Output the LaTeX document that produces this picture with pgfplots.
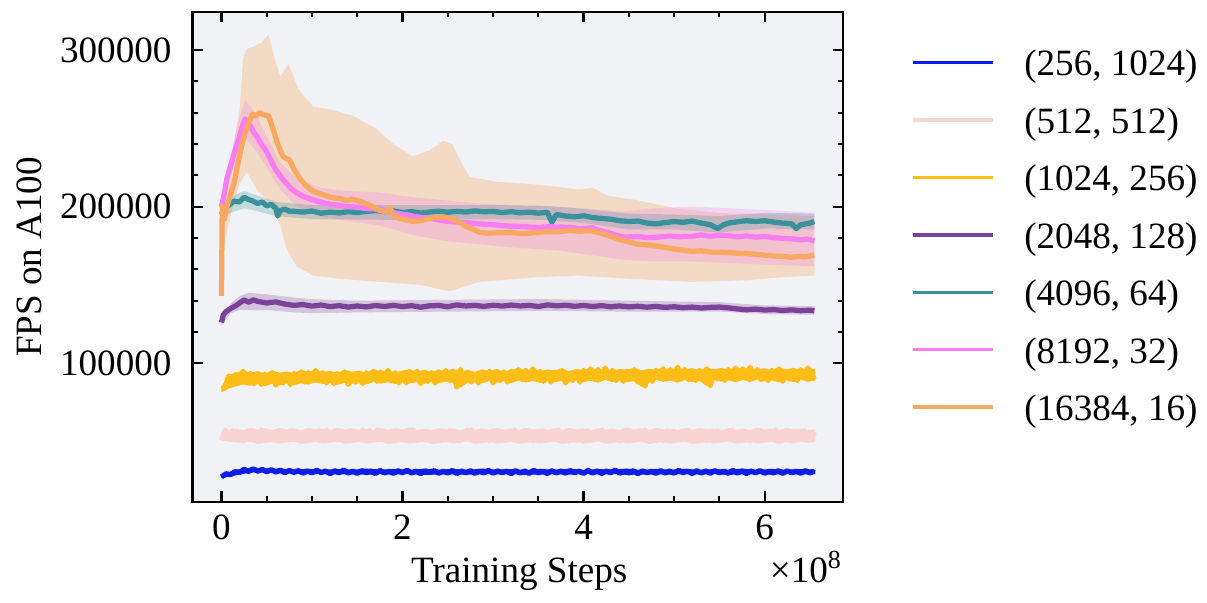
\documentclass[border=0pt]{standalone}
\usepackage{pgfplots}
\pgfplotsset{compat=1.18}
\usepackage{fontspec}
\setmainfont{Liberation Serif}
\definecolor{cblue}{RGB}{14,30,232}
\definecolor{clpink}{RGB}{250,212,210}
\definecolor{cyellow}{RGB}{251,189,22}
\definecolor{cpurple}{RGB}{124,66,152}
\definecolor{cteal}{RGB}{58,144,155}
\definecolor{cmag}{RGB}{247,126,240}
\definecolor{corange}{RGB}{248,168,98}
\definecolor{bgc}{RGB}{240,242,245}
\begin{document}
\fontsize{10.6}{12.7}\selectfont
\begin{tikzpicture}
\path (-55pt,-27.4pt) rectangle (289.8pt,143.4pt);
\begin{axis}[
  scale only axis, width=185.9pt, height=140pt,
  xmin=-0.32, xmax=6.87, ymin=11500, ymax=324300,
  xtick={0,2,4,6}, minor x tick num=3,
  ytick={100000,200000,300000}, minor y tick num=4,
  tick align=inside, xtick pos=both, ytick pos=both,
  major tick length=3pt, minor tick length=1.6pt,
  every tick/.style={black, line width=0.6pt},
  axis line style={line width=0.6pt},
  scaled y ticks=false,
  yticklabel style={/pgf/number format/fixed, /pgf/number format/1000 sep={}, xshift=-2.3pt},
  /pgf/number format/assume math mode=true,
  axis background/.style={fill=bgc},
  xlabel={Training Steps}, ylabel={FPS on A100},
  every axis x label/.style={at={(axis description cs:0.502,-0.1636)}, anchor=base},
  every axis y label/.style={at={(axis description cs:-0.2315,0.5)}, rotate=90, anchor=base},
  legend cell align=left,
  legend style={draw=none, fill=none, inner sep=0pt, row sep=8.8pt,
    at={(axis description cs:1.1028,0.925)}, anchor=north west,
    nodes={inner sep=0pt, text height=7.6pt, text depth=0pt},
    /tikz/every odd column/.append style={column sep=8.5pt}},
  legend image code/.code={\draw[#1,line width=1pt] (0pt,0pt) -- (22.9pt,0pt);},
  every axis plot/.append style={line width=1.5pt, line join=round},
]
% ---- std bands ----
\addplot[forget plot, draw=none, fill=corange, fill opacity=0.32] coordinates {
(0,200000) (0.05,215000) (0.12,235000) (0.2,262000) (0.24,295000) (0.28,300600) (0.35,302000) (0.45,305000) (0.52,310000) (0.58,296000) (0.65,283000) (0.74,291000) (0.85,275000) (1.01,264000) (1.2,262000) (1.45,258000) (1.7,250000) (1.9,240000) (2.11,232000) (2.3,236000) (2.45,242000) (2.55,240000) (2.65,228000) (2.74,219000) (3.03,216000) (3.5,214000) (3.94,211000) (4.1,212000) (4.27,207000) (4.6,204000) (5.0,199000) (5.5,196000) (6.0,195000) (6.55,194000)
(6.55,156000) (6.2,155000) (5.8,153000) (5.2,152000) (4.5,154000) (3.94,156000) (3.5,155000) (2.85,152000) (2.52,146000) (2.2,150000) (1.75,152000) (1.3,154000) (1.01,156000) (0.83,162000) (0.72,173000) (0.65,188000) (0.5,205000) (0.4,210000) (0.28,222000) (0.2,215000) (0.1,195000) (0.03,175000) (0,143000)};
\addplot[forget plot, draw=none, fill=cmag, fill opacity=0.25] coordinates {
(0,200000) (0.1,232000) (0.19,255000) (0.26,268000) (0.35,262000) (0.5,245000) (0.65,228000) (0.83,218000) (1.09,212000) (1.38,210000) (1.75,209000) (2.11,206000) (2.48,204000) (2.85,202000) (3.2,201000) (3.73,200000) (4.46,197000) (4.82,199000) (5.19,200000) (5.6,199000) (6.0,198000) (6.55,196000)
(6.55,162000) (6.0,163000) (5.6,164000) (5.19,165000) (4.82,165000) (4.46,166000) (3.73,172000) (3.2,174000) (2.85,176000) (2.48,178000) (2.11,182000) (1.75,188000) (1.38,191000) (1.09,194000) (0.83,200000) (0.65,211000) (0.5,225000) (0.39,235000) (0.26,244000) (0.19,232000) (0.1,220000) (0,200000)};
\addplot[forget plot, draw=none, fill=cteal, fill opacity=0.25] coordinates {
(0,197000) (0.1,206000) (0.25,210000) (0.4,207000) (0.6,203000) (1.0,201000) (2.0,201000) (3.0,201000) (3.6,200500) (4.0,198500) (4.5,195500) (5.0,195000) (5.5,194000) (6.0,196000) (6.55,195500)
(6.55,185500) (6.0,186000) (5.5,183500) (5.0,185500) (4.5,185500) (4.0,189500) (3.6,191500) (3.0,192000) (2.0,191500) (1.0,192000) (0.6,194000) (0.4,197000) (0.25,199000) (0.1,196000) (0,193000)};
\addplot[forget plot, draw=none, fill=cpurple, fill opacity=0.25] coordinates {
(0,128000) (0.1,138000) (0.2,143000) (0.3,145000) (0.5,144000) (0.8,142000) (1.0,141000) (1.5,140000) (2.5,140500) (3.5,141000) (4.5,140000) (5.5,139000) (6.0,137000) (6.55,136500)
(6.55,131000) (6.0,131500) (5.5,133000) (4.5,133000) (3.5,133500) (2.5,133000) (1.5,132500) (1.0,132000) (0.8,132500) (0.5,134000) (0.3,134000) (0.2,134000) (0.1,132000) (0,124000)};
% ---- noise envelopes of the three noisy runs ----
\addplot[forget plot, draw=none, fill=cblue] coordinates {
(0,28800) (0.16,31800) (0.32,33400) (0.48,33000) (0.64,32800) (0.8,32200) (0.96,32700) (1.12,32000) (1.28,32600) (1.44,32100) (1.6,32800) (1.76,32200) (1.92,32500) (2.08,31900) (2.24,32700) (2.4,32100) (2.56,32600) (2.72,32000) (2.88,32800) (3.04,32200) (3.2,32500) (3.36,31900) (3.52,32600) (3.68,32100) (3.84,32700) (4.0,32000) (4.16,32500) (4.32,32200) (4.48,32800) (4.64,31900) (4.8,32600) (4.96,32100) (5.12,32700) (5.28,32000) (5.44,32500) (5.6,32200) (5.76,32800) (5.92,31900) (6.08,32600) (6.24,32100) (6.4,32500) (6.56,32200)
(6.56,29400) (6.4,29000) (6.24,29500) (6.08,28900) (5.92,29300) (5.76,29100) (5.6,28800) (5.44,29400) (5.28,29000) (5.12,29500) (4.96,28900) (4.8,29200) (4.64,29000) (4.48,28800) (4.32,29400) (4.16,29100) (4.0,29500) (3.84,28900) (3.68,29300) (3.52,29000) (3.36,28800) (3.2,29400) (3.04,29100) (2.88,29500) (2.72,28900) (2.56,29200) (2.4,29000) (2.24,28800) (2.08,29400) (1.92,29100) (1.76,29300) (1.6,28900) (1.44,29200) (1.28,29000) (1.12,29400) (0.96,29300) (0.8,29600) (0.64,29900) (0.48,30500) (0.32,30300) (0.16,28500) (0,26800)};
\addplot[forget plot, draw=none, fill=clpink] coordinates {
(0,55000) (0.08,57500) (0.16,58300) (0.24,57400) (0.32,58800) (0.4,57600) (0.48,58500) (0.56,57200) (0.64,58900) (0.72,57800) (0.8,58400) (0.88,57100) (0.96,58700) (1.04,57900) (1.12,58200) (1.2,57300) (1.28,59000) (1.36,57700) (1.44,58600) (1.52,57400) (1.6,58300) (1.68,57000) (1.76,58800) (1.84,57600) (1.92,58500) (2.0,57900) (2.08,59100) (2.16,57500) (2.24,58200) (2.32,57300) (2.4,58700) (2.48,57800) (2.56,58400) (2.64,57100) (2.72,58900) (2.8,57600) (2.88,58300) (2.96,57400) (3.04,58800) (3.12,57700) (3.2,58500) (3.28,57200) (3.36,59000) (3.44,57900) (3.52,58200) (3.6,57500) (3.68,58600) (3.76,57300) (3.84,58900) (3.92,57800) (4.0,58400) (4.08,57000) (4.16,58700) (4.24,57600) (4.32,58300) (4.4,57400) (4.48,59100) (4.56,57700) (4.64,58500) (4.72,57200) (4.8,58800) (4.88,57900) (4.96,58200) (5.04,57500) (5.12,58600) (5.2,57300) (5.28,58900) (5.36,57800) (5.44,58400) (5.52,57100) (5.6,58700) (5.68,57600) (5.76,58300) (5.84,57400) (5.92,59000) (6.0,57700) (6.08,58500) (6.16,57200) (6.24,58800) (6.32,57900) (6.4,58200) (6.48,57500) (6.56,57800)
(6.56,49800) (6.48,49200) (6.4,50100) (6.32,48900) (6.24,49700) (6.16,48600) (6.08,50000) (6.0,49300) (5.92,48800) (5.84,49900) (5.76,49100) (5.68,48700) (5.6,50200) (5.52,49400) (5.44,48900) (5.36,49800) (5.28,49000) (5.2,48600) (5.12,50100) (5.04,49300) (4.96,48800) (4.88,49700) (4.8,49200) (4.72,48500) (4.64,50000) (4.56,49400) (4.48,48900) (4.4,49800) (4.32,49100) (4.24,48700) (4.16,50200) (4.08,49300) (4.0,48800) (3.92,49900) (3.84,49000) (3.76,48600) (3.68,50100) (3.6,49400) (3.52,48900) (3.44,49700) (3.36,49200) (3.28,48500) (3.2,50000) (3.12,49300) (3.04,48800) (2.96,49900) (2.88,49100) (2.8,48700) (2.72,50200) (2.64,49400) (2.56,48900) (2.48,49800) (2.4,49000) (2.32,48600) (2.24,50100) (2.16,49300) (2.08,48800) (2.0,49700) (1.92,49200) (1.84,48500) (1.76,50000) (1.68,49400) (1.6,48900) (1.52,49800) (1.44,49100) (1.36,48700) (1.28,50200) (1.2,49300) (1.12,48800) (1.04,49900) (0.96,49000) (0.88,48600) (0.8,50100) (0.72,49400) (0.64,48900) (0.56,49700) (0.48,49200) (0.4,48500) (0.32,50000) (0.24,49300) (0.16,49500) (0.08,50000) (0,50500)};
\addplot[forget plot, draw=none, fill=cyellow] coordinates {
(0,85000) (0.08,92500) (0.16,94000) (0.24,95500) (0.32,94000) (0.4,95000) (0.48,93500) (0.56,95500) (0.64,94000) (0.72,94800) (0.8,93800) (0.88,95800) (0.96,94500) (1.04,96000) (1.12,94300) (1.2,95200) (1.28,93900) (1.36,95900) (1.44,94600) (1.52,95300) (1.6,94000) (1.68,96200) (1.76,94800) (1.84,95600) (1.92,94200) (2.0,95400) (2.08,96300) (2.16,94700) (2.24,95900) (2.32,94400) (2.4,96000) (2.48,95100) (2.56,96500) (2.64,94800) (2.72,95700) (2.8,94500) (2.88,96200) (2.96,95000) (3.04,96400) (3.12,94900) (3.2,95800) (3.28,96900) (3.36,95200) (3.44,96600) (3.52,95000) (3.6,96100) (3.68,95400) (3.76,96800) (3.84,95100) (3.92,96300) (4.0,95600) (4.08,97000) (4.16,95500) (4.24,96700) (4.32,95200) (4.4,96400) (4.48,95800) (4.56,97100) (4.64,95400) (4.72,96500) (4.8,95900) (4.88,97200) (4.96,95700) (5.04,97400) (5.12,96000) (5.2,96900) (5.28,95600) (5.36,97300) (5.44,96200) (5.52,97000) (5.6,95800) (5.68,97500) (5.76,96300) (5.84,97200) (5.92,96000) (6.0,96800) (6.08,95700) (6.16,97400) (6.24,96100) (6.32,97000) (6.4,95900) (6.48,97300) (6.56,96000)
(6.56,89000) (6.48,88200) (6.4,89500) (6.32,88000) (6.24,89300) (6.16,87800) (6.08,89100) (6.0,88400) (5.92,89700) (5.84,88100) (5.76,89400) (5.68,87900) (5.6,89200) (5.52,88300) (5.44,89600) (5.36,85500) (5.28,88800) (5.2,88000) (5.12,89300) (5.04,87700) (4.96,89000) (4.88,88200) (4.8,89500) (4.72,87800) (4.64,85000) (4.56,88600) (4.48,87900) (4.4,89200) (4.32,88000) (4.24,89400) (4.16,87600) (4.08,88900) (4.0,88100) (3.92,89300) (3.84,87700) (3.76,88800) (3.68,87900) (3.6,89100) (3.52,87500) (3.44,88700) (3.36,87800) (3.28,89000) (3.2,87400) (3.12,88600) (3.04,87600) (2.96,88900) (2.88,87300) (2.8,88500) (2.72,87700) (2.64,84500) (2.56,87500) (2.48,88400) (2.4,87100) (2.32,88200) (2.24,86900) (2.16,88000) (2.08,87200) (2.0,88300) (1.92,86800) (1.84,87900) (1.76,87000) (1.68,88100) (1.6,86600) (1.52,87800) (1.44,86900) (1.36,87600) (1.28,86200) (1.2,87500) (1.12,86700) (1.04,87900) (0.96,86400) (0.88,87300) (0.8,86000) (0.72,87200) (0.64,85800) (0.56,87000) (0.48,85500) (0.4,86800) (0.32,85700) (0.24,86500) (0.16,85300) (0.08,84000) (0,81500)};
% ---- (256, 1024) ----
\addplot[cblue] coordinates {
(0,27500) (0.05,29500) (0.1,29000) (0.15,30800) (0.2,30500) (0.25,32300) (0.3,31000) (0.35,32600) (0.4,31200) (0.45,32200) (0.5,30800) (0.55,32000) (0.6,30600) (0.65,31800) (0.7,30200) (0.75,31600) (0.8,30400) (0.85,31500) (0.9,29900) (0.95,31300) (1.0,30100) (1.05,31700) (1.1,30300) (1.15,31200) (1.2,29600) (1.25,31400) (1.3,30200) (1.35,31800) (1.4,30000) (1.45,31100) (1.5,29800) (1.55,31500) (1.6,30300) (1.65,31200) (1.7,29700) (1.75,31600) (1.8,30100) (1.85,31000) (1.9,29800) (1.95,31400) (2.0,30200) (2.05,31700) (2.1,30000) (2.15,31200) (2.2,29600) (2.25,31300) (2.3,30300) (2.35,31500) (2.4,29900) (2.45,31100) (2.5,30000) (2.55,31600) (2.6,29700) (2.65,31200) (2.7,30200) (2.75,31400) (2.8,29800) (2.85,31000) (2.9,30100) (2.95,31600) (3.0,29900) (3.05,31300) (3.1,30300) (3.15,31100) (3.2,29600) (3.25,31500) (3.3,30000) (3.35,31200) (3.4,29800) (3.45,31700) (3.5,30200) (3.55,31000) (3.6,29700) (3.65,31400) (3.7,30100) (3.75,31200) (3.8,29900) (3.85,31500) (3.9,30300) (3.95,31100) (4.0,29800) (4.05,31600) (4.1,30000) (4.15,31300) (4.2,29700) (4.25,31200) (4.3,30200) (4.35,31800) (4.4,29900) (4.45,31100) (4.5,30100) (4.55,31400) (4.6,29600) (4.65,31300) (4.7,30200) (4.75,31000) (4.8,29800) (4.85,31500) (4.9,30000) (4.95,31200) (5.0,29900) (5.05,31600) (5.1,30300) (5.15,31100) (5.2,29700) (5.25,31400) (5.3,30100) (5.35,31200) (5.4,29800) (5.45,31500) (5.5,30200) (5.55,31000) (5.6,29900) (5.65,31600) (5.7,30000) (5.75,31300) (5.8,29700) (5.85,31200) (5.9,30200) (5.95,31500) (6.0,29900) (6.05,31100) (6.1,30100) (6.15,31400) (6.2,29800) (6.25,31300) (6.3,30200) (6.35,31000) (6.4,29900) (6.45,31500) (6.5,30100) (6.55,31000)};
\addlegendentry{(256, 1024)}
% ---- (512, 512) ----
\addplot[clpink] coordinates {
(0,51000) (0.04,57500) (0.08,53000) (0.12,57000) (0.16,51500) (0.2,55500) (0.24,50500) (0.28,56000) (0.32,53000) (0.36,57000) (0.4,51500) (0.44,57500) (0.48,52500) (0.52,56000) (0.56,51000) (0.6,55000) (0.64,50500) (0.68,56500) (0.72,52000) (0.76,57000) (0.8,52000) (0.84,55000) (0.88,51000) (0.92,56500) (0.96,50500) (1.0,55500) (1.04,52000) (1.08,57000) (1.12,53000) (1.16,57500) (1.2,51500) (1.24,56000) (1.28,51000) (1.32,56000) (1.36,50500) (1.4,55000) (1.44,51000) (1.48,56500) (1.52,52500) (1.56,57500) (1.6,52000) (1.64,57000) (1.68,53000) (1.72,57500) (1.76,51500) (1.8,56000) (1.84,51000) (1.88,56000) (1.92,50500) (1.96,55000) (2.0,51000) (2.04,56500) (2.08,52500) (2.12,57500) (2.16,52000) (2.2,55000) (2.24,51000) (2.28,56500) (2.32,50500) (2.36,55500) (2.4,52500) (2.44,56500) (2.48,51000) (2.52,57000) (2.56,53000) (2.6,55500) (2.64,50500) (2.68,56000) (2.72,52000) (2.76,57500) (2.8,51500) (2.84,55000) (2.88,52500) (2.92,56500) (2.96,50500) (3.0,57000) (3.04,53000) (3.08,55500) (3.12,51000) (3.16,56000) (3.2,52000) (3.24,57500) (3.28,51500) (3.32,55000) (3.36,53000) (3.4,56500) (3.44,50500) (3.48,56000) (3.52,52500) (3.56,57000) (3.6,51000) (3.64,55500) (3.68,52000) (3.72,57500) (3.76,53000) (3.8,56000) (3.84,51500) (3.88,55000) (3.92,50500) (3.96,56500) (4.0,52500) (4.04,57000) (4.08,51000) (4.12,55500) (4.16,53000) (4.2,57500) (4.24,51500) (4.28,56000) (4.32,52000) (4.36,55000) (4.4,50500) (4.44,56500) (4.48,53000) (4.52,57000) (4.56,51500) (4.6,55500) (4.64,52500) (4.68,57500) (4.72,51000) (4.76,56000) (4.8,52000) (4.84,55000) (4.88,50500) (4.92,57000) (4.96,53000) (5.0,56500) (5.04,51500) (5.08,55500) (5.12,52000) (5.16,57500) (5.2,51000) (5.24,56000) (5.28,53000) (5.32,55000) (5.36,50500) (5.4,56500) (5.44,52500) (5.48,57000) (5.52,51500) (5.56,55500) (5.6,52000) (5.64,57500) (5.68,51000) (5.72,56000) (5.76,53000) (5.8,55000) (5.84,50500) (5.88,56500) (5.92,52500) (5.96,57000) (6.0,51500) (6.04,55500) (6.08,52000) (6.12,57500) (6.16,51000) (6.2,56000) (6.24,53000) (6.28,55000) (6.32,50500) (6.36,56500) (6.4,52500) (6.44,57000) (6.48,51500) (6.52,55500) (6.56,53500)};
\addlegendentry{(512, 512)}
% ---- (1024, 256) ----
\addplot[cyellow] coordinates {
(0,83500) (0.04,84500) (0.08,92000) (0.12,86500) (0.16,93000) (0.2,89500) (0.24,95000) (0.28,88500) (0.32,93500) (0.36,87000) (0.4,92000) (0.44,86500) (0.48,93000) (0.52,88500) (0.56,94000) (0.6,86000) (0.64,92000) (0.68,87500) (0.72,93000) (0.76,86500) (0.8,93500) (0.84,89000) (0.88,94500) (0.92,88000) (0.96,94000) (1.0,90000) (1.04,95500) (1.08,89000) (1.12,94000) (1.16,87500) (1.2,92500) (1.24,87000) (1.28,93500) (1.32,89000) (1.36,94500) (1.4,86500) (1.44,92500) (1.48,88000) (1.52,93500) (1.56,87000) (1.6,94000) (1.64,89500) (1.68,95000) (1.72,88500) (1.76,94500) (1.8,90000) (1.84,95500) (1.88,89000) (1.92,94000) (1.96,87500) (2.0,93000) (2.04,87500) (2.08,94000) (2.12,89500) (2.16,95000) (2.2,87000) (2.24,93000) (2.28,88500) (2.32,94000) (2.36,87500) (2.4,94500) (2.44,90000) (2.48,95500) (2.52,89000) (2.56,95000) (2.6,85000) (2.64,96000) (2.68,89500) (2.72,94500) (2.76,88000) (2.8,93000) (2.84,87500) (2.88,94000) (2.92,89500) (2.96,95000) (3.0,87500) (3.04,93500) (3.08,89000) (3.12,94500) (3.16,88000) (3.2,95000) (3.24,90500) (3.28,96000) (3.32,89500) (3.36,95500) (3.4,91000) (3.44,96500) (3.48,90000) (3.52,95000) (3.56,88500) (3.6,93500) (3.64,88000) (3.68,94500) (3.72,90000) (3.76,95500) (3.8,87500) (3.84,93500) (3.88,89000) (3.92,94500) (3.96,88000) (4.0,95500) (4.04,91000) (4.08,96500) (4.12,90000) (4.16,96000) (4.2,91500) (4.24,97000) (4.28,90500) (4.32,95500) (4.36,89000) (4.4,94000) (4.44,88500) (4.48,95000) (4.52,90500) (4.56,96000) (4.6,88000) (4.64,94000) (4.68,85500) (4.72,95000) (4.76,88500) (4.8,95500) (4.84,91000) (4.88,96500) (4.92,90000) (4.96,96000) (5.0,92000) (5.04,97500) (5.08,91000) (5.12,96000) (5.16,89500) (5.2,94500) (5.24,89000) (5.28,95500) (5.32,91000) (5.36,96500) (5.4,86000) (5.44,94500) (5.48,90000) (5.52,95500) (5.56,89000) (5.6,96000) (5.64,91500) (5.68,97000) (5.72,90500) (5.76,96500) (5.8,92000) (5.84,97500) (5.88,91000) (5.92,96000) (5.96,89500) (6.0,94500) (6.04,89000) (6.08,95500) (6.12,91000) (6.16,96500) (6.2,88500) (6.24,94500) (6.28,90000) (6.32,95500) (6.36,89000) (6.4,96000) (6.44,91500) (6.48,97000) (6.52,90500) (6.56,92000)};
\addlegendentry{(1024, 256)}
% ---- (2048, 128) ----
\addplot[cpurple] coordinates {
(0,126000) (0.02,131000) (0.05,133000) (0.1,135000) (0.15,136500) (0.2,138500) (0.25,140500) (0.3,139000) (0.35,140500) (0.4,139500) (0.5,138500) (0.6,139200) (0.7,137800) (0.8,137000) (0.9,137500) (1.0,136500) (1.1,137200) (1.2,136200) (1.3,136800) (1.4,135900) (1.5,136600) (1.6,136000) (1.7,136900) (1.8,136300) (1.9,137000) (2.0,136200) (2.1,136800) (2.2,135800) (2.3,136700) (2.4,136900) (2.5,136100) (2.6,137300) (2.7,136600) (2.8,137000) (2.9,136300) (3.0,137100) (3.1,136500) (3.2,137200) (3.3,136600) (3.4,137000) (3.5,136200) (3.6,137300) (3.7,136700) (3.8,137100) (3.9,136400) (4.0,136900) (4.1,136300) (4.2,136800) (4.3,136100) (4.4,136600) (4.5,136000) (4.6,136400) (4.7,135800) (4.8,136300) (4.9,135700) (5.0,136100) (5.1,135500) (5.2,135900) (5.3,135300) (5.4,135700) (5.5,135900) (5.6,135400) (5.7,134700) (5.8,134200) (5.9,134600) (6.0,134000) (6.1,134300) (6.2,133700) (6.3,134100) (6.4,133600) (6.5,133900) (6.55,133500)};
\addlegendentry{(2048, 128)}
% ---- (4096, 64) ----
\addplot[cteal] coordinates {
(0,195000) (0.03,199000) (0.08,201000) (0.14,203500) (0.2,203000) (0.25,206000) (0.3,204500) (0.35,203500) (0.4,202000) (0.45,203000) (0.5,200500) (0.55,201500) (0.6,199000) (0.62,194000) (0.65,197500) (0.7,198500) (0.75,197000) (0.8,197000) (0.9,196500) (1.0,197200) (1.1,195800) (1.2,196500) (1.3,196000) (1.4,196800) (1.5,196200) (1.6,197000) (1.7,197500) (1.8,196800) (1.9,197200) (2.0,196300) (2.1,196900) (2.2,195900) (2.3,196600) (2.4,197100) (2.5,196400) (2.6,197000) (2.7,196500) (2.8,197300) (2.9,196700) (3.0,197000) (3.1,196200) (3.2,196800) (3.3,196100) (3.4,196500) (3.5,195800) (3.6,196400) (3.65,190000) (3.7,195000) (3.8,194000) (3.9,193500) (4.0,194200) (4.1,193000) (4.2,192500) (4.3,192000) (4.4,191000) (4.5,190500) (4.6,190800) (4.7,189500) (4.8,189000) (4.9,189800) (5.0,190500) (5.1,190000) (5.2,190800) (5.3,189500) (5.4,188500) (5.48,186000) (5.55,188500) (5.6,189500) (5.7,190300) (5.8,191000) (5.9,190500) (6.0,191000) (6.1,190200) (6.2,189500) (6.3,189000) (6.35,186000) (6.4,188500) (6.5,189500) (6.55,190500)};
\addlegendentry{(4096, 64)}
% ---- (8192, 32) ----
\addplot[cmag] coordinates {
(0,200000) (0.03,208000) (0.06,218000) (0.1,226000) (0.14,234000) (0.19,243000) (0.23,251000) (0.26,256000) (0.29,253000) (0.32,251500) (0.36,247000) (0.39,245000) (0.44,240000) (0.5,235000) (0.55,229000) (0.6,223500) (0.65,219500) (0.7,216000) (0.76,212000) (0.83,209000) (0.9,206500) (1.0,204500) (1.09,203000) (1.2,201500) (1.3,200800) (1.38,200000) (1.5,199800) (1.6,198700) (1.75,198500) (1.85,197000) (1.95,195500) (2.05,194800) (2.11,194000) (2.2,193200) (2.3,192500) (2.4,191500) (2.48,190700) (2.6,190200) (2.7,189800) (2.85,189000) (3.0,188500) (3.1,188000) (3.2,187500) (3.35,187300) (3.5,186500) (3.6,187200) (3.73,187000) (3.85,186800) (3.95,186000) (4.1,186500) (4.2,184500) (4.3,183000) (4.38,181500) (4.46,180500) (4.6,181000) (4.7,180200) (4.82,180500) (4.95,181300) (5.05,180800) (5.19,181000) (5.3,182000) (5.4,181000) (5.5,181800) (5.6,181500) (5.7,180700) (5.8,181400) (5.9,180500) (6.0,181000) (6.1,180200) (6.2,179800) (6.29,179500) (6.4,178800) (6.48,179300) (6.55,178000)};
\addlegendentry{(8192, 32)}
% ---- (16384, 16) ----
\addplot[corange] coordinates {
(0,143000) (0.008,200000) (0.03,192000) (0.06,200000) (0.1,208000) (0.14,215000) (0.19,230000) (0.24,243000) (0.29,252000) (0.34,259000) (0.38,258000) (0.42,260000) (0.47,258500) (0.52,258000) (0.57,249500) (0.62,240000) (0.68,232000) (0.72,230500) (0.75,230000) (0.8,224000) (0.87,217500) (0.94,213000) (1.01,210000) (1.1,208000) (1.2,206000) (1.3,205200) (1.38,204000) (1.45,204700) (1.55,203000) (1.67,200000) (1.75,197500) (1.82,196500) (1.86,199500) (1.9,194500) (1.95,193000) (2.03,191500) (2.11,190700) (2.2,191000) (2.3,192500) (2.4,193500) (2.48,193000) (2.55,192000) (2.6,191000) (2.7,187500) (2.78,185500) (2.85,183700) (2.95,183000) (3.05,183300) (3.2,183500) (3.3,182800) (3.4,183000) (3.5,183600) (3.6,184000) (3.73,184000) (3.85,184800) (3.95,184300) (4.09,184500) (4.18,183200) (4.25,182000) (4.33,180500) (4.4,179000) (4.5,177500) (4.6,176000) (4.7,175600) (4.82,174700) (4.9,174000) (5.0,173000) (5.1,172200) (5.19,171500) (5.3,171800) (5.4,171000) (5.56,170800) (5.7,170200) (5.8,170000) (5.92,169500) (6.0,169000) (6.1,168500) (6.2,168300) (6.29,167700) (6.38,168200) (6.45,168000) (6.55,169000)};
\addlegendentry{(16384, 16)}
\end{axis}
\node[anchor=base east, inner sep=0pt] at (185.9pt,-22.9pt) {×10\textsuperscript{8}};
\end{tikzpicture}
\end{document}
